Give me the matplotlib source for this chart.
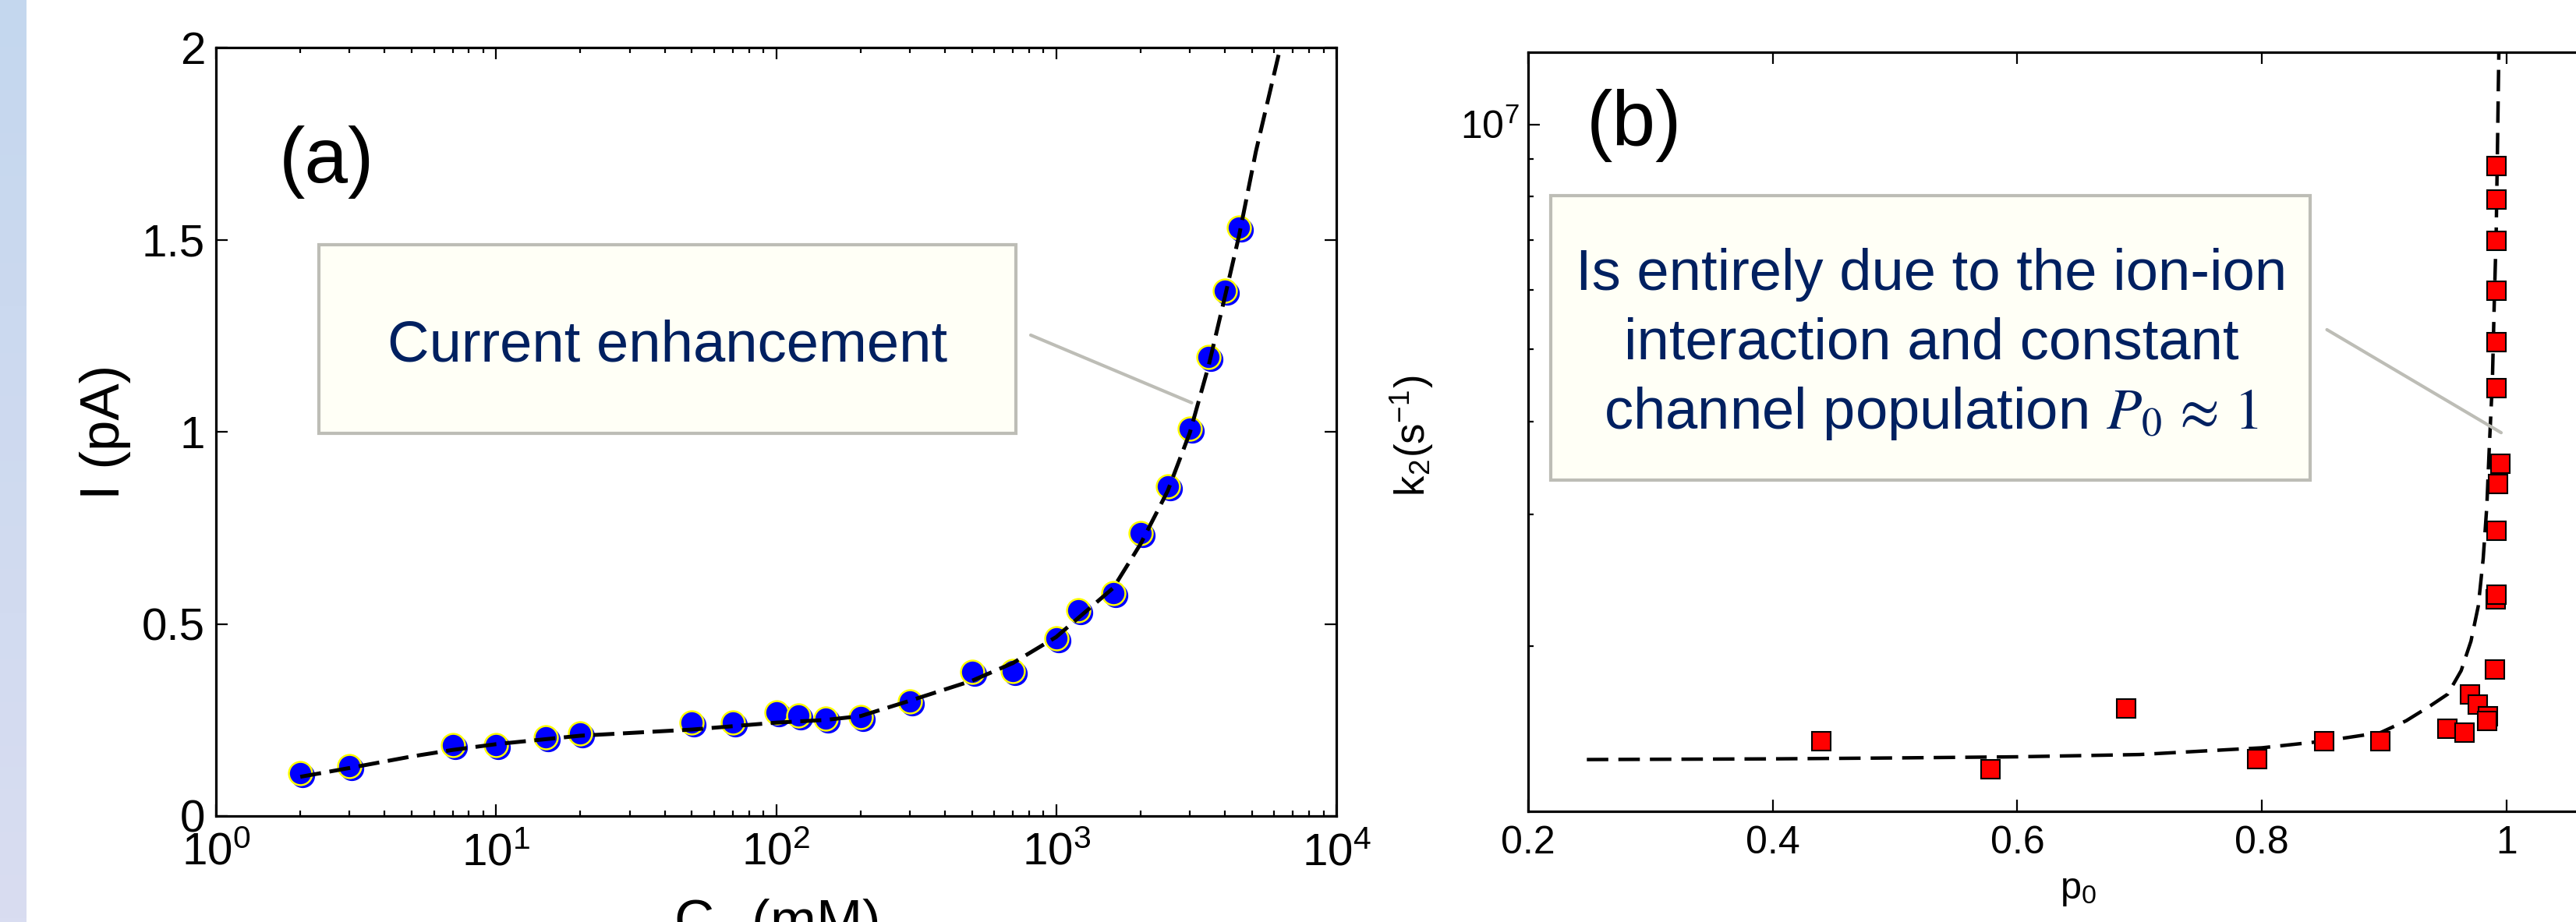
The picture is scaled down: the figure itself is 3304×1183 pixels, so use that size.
import numpy as np
import matplotlib
matplotlib.use('Agg')
import matplotlib.pyplot as plt
from matplotlib import transforms
from matplotlib.patches import Rectangle
from matplotlib.ticker import LogLocator, NullFormatter

plt.rcParams['font.family'] = ['Liberation Sans', 'DejaVu Sans']
plt.rcParams['mathtext.fontset'] = 'stix'

# ---------------- data: panel (a) ----------------
conc_mM = [2, 3, 7, 10, 15, 20, 50, 70, 100, 120, 150, 200, 300, 500, 700,
           1000, 1200, 1600, 2000, 2500, 3000, 3500, 4000, 4500]
current_pA = [0.111, 0.130, 0.184, 0.184, 0.205, 0.215, 0.243, 0.243, 0.270,
              0.262, 0.253, 0.257, 0.298, 0.375, 0.378, 0.462, 0.535, 0.581,
              0.737, 0.857, 1.008, 1.195, 1.368, 1.531]
fit_conc = [2, 3, 5, 7, 10, 20, 50, 100, 150, 200, 300, 500, 700, 1000, 1600,
            2000, 2500, 3000, 3500, 4000, 4500, 5160, 6310]
fit_current = [0.102, 0.125, 0.155, 0.172, 0.187, 0.209, 0.225, 0.243, 0.250,
               0.260, 0.300, 0.352, 0.398, 0.466, 0.594, 0.708, 0.846, 0.998,
               1.172, 1.351, 1.512, 1.729, 2.0]
yticks_a = [0, 0.5, 1, 1.5, 2]
yticklabels_a = ['0', '0.5', '1', '1.5', '2']

# ---------------- data: panel (b) ----------------
p0 = [0.440, 0.578, 0.689, 0.796, 0.851, 0.897, 0.952, 0.9655, 0.970, 0.9766,
      0.985, 0.984, 0.9906, 0.991, 0.992, 0.992, 0.993, 0.995, 0.992, 0.992,
      0.992, 0.992, 0.992, 0.992]
k2 = [1.49e6, 1.365e6, 1.65e6, 1.41e6, 1.49e6, 1.49e6, 1.55e6, 1.53e6, 1.72e6,
      1.67e6, 1.61e6, 1.585e6, 1.86e6, 2.31e6, 2.34e6, 2.85e6, 3.30e6, 3.51e6,
      4.43e6, 5.11e6, 5.98e6, 6.98e6, 7.93e6, 8.79e6]
fit_p0 = [0.248, 0.40, 0.50, 0.60, 0.70, 0.80, 0.85, 0.897, 0.918, 0.9375,
          0.952, 0.963, 0.971, 0.977, 0.981, 0.984, 0.986, 0.9885, 0.990,
          0.9916, 0.9927, 0.9938]
fit_k2 = [1.408e6, 1.411e6, 1.415e6, 1.42e6, 1.43e6, 1.46e6, 1.49e6, 1.53e6,
          1.587e6, 1.661e6, 1.723e6, 1.853e6, 2.029e6, 2.262e6, 2.617e6,
          3.082e6, 3.694e6, 4.512e6, 5.715e6, 7.106e6, 9.33e6, 1.25e7]
xticks_b = [0.2, 0.4, 0.6, 0.8, 1.0]
xticklabels_b = ['0.2', '0.4', '0.6', '0.8', '1']

text_a = 'Current enhancement'
text_b = ['Is entirely due to the ion-ion',
          'interaction and constant',
          r'channel population $P_0\,\approx\,1$']

# ---------------- figure ----------------
W, H, DPI = 3304, 1183, 100
fig = plt.figure(figsize=(W / DPI, H / DPI), dpi=DPI)
fig.patch.set_facecolor('white')

NAVY = '#002060'
BOXFC = '#fffff6'
BOXEC = '#bdbdb6'

# light blue strip on the left edge
strip = fig.add_axes([0, 0, 34 / W, 1], zorder=-5)
grad = np.linspace(0, 1, 256)[:, None, None]
c_top = np.array([196, 215, 238])[None, None, :] / 255
c_bot = np.array([217, 221, 241])[None, None, :] / 255
strip.imshow(c_top * (1 - grad) + c_bot * grad, aspect='auto',
             extent=[0, 1, 0, 1], origin='upper')
strip.axis('off')

# ---------------- panel (a) ----------------
axL = fig.add_axes([277 / W, 1 - 1047 / H, 1437 / W, 986 / H])
axL.set_xscale('log')
axL.set_xlim(1, 1e4)
axL.set_ylim(0, 2)

shadow = transforms.offset_copy(axL.transData, fig=fig, x=3, y=-3, units='dots')
axL.plot(conc_mM, current_pA, 'o', ms=21.5, mfc='#0000ff', mec='#0000ff',
         mew=1.0, transform=shadow, zorder=2, clip_on=False)
axL.plot(conc_mM, current_pA, 'o', ms=21.5, mfc='#0000ff', mec='#ffff00',
         mew=1.8, zorder=2.1, clip_on=False)
axL.plot(fit_conc, fit_current, color='black', lw=3.6,
         linestyle=(0, (5.4, 2.2)), zorder=3)

axL.xaxis.set_major_locator(LogLocator(base=10, numticks=10))
axL.xaxis.set_minor_locator(LogLocator(base=10, subs=np.arange(2, 10), numticks=10))
axL.xaxis.set_minor_formatter(NullFormatter())
axL.set_yticks(yticks_a, yticklabels_a)
axL.tick_params(which='both', direction='in', top=True, right=True, width=1.6)
axL.tick_params(which='major', length=11, labelsize=42)
axL.tick_params(axis='x', which='major', pad=15)
axL.tick_params(axis='y', which='major', pad=10)
axL.tick_params(which='minor', length=5)
for s in axL.spines.values():
    s.set_linewidth(2.3)

axL.set_ylabel('I (pA)', fontsize=51)
axL.yaxis.label.set_va('baseline')
axL.yaxis.set_label_coords(-0.0863, 0.5)
axL.set_xlabel(r'C$_{\mathdefault{s}}$ (mM)', fontsize=51)
axL.xaxis.label.set_va('baseline')
axL.xaxis.set_label_coords(0.5, -0.1592)

axL.text(0.0564, 0.8245, '(a)', transform=axL.transAxes, fontsize=72,
         ha='left', va='baseline')
axL.add_patch(Rectangle((0.0917, 0.498), 0.7137 - 0.0917, 0.7431 - 0.498,
                        transform=axL.transAxes, fc=BOXFC, ec=BOXEC, lw=3,
                        zorder=4))
axL.text(0.4029, 0.5913, text_a, transform=axL.transAxes, fontsize=53.5,
         color=NAVY, ha='center', va='baseline', zorder=5)
axL.annotate('', xy=(3045, 1.0755), xycoords='data',
             xytext=(0.7272, 0.6258), textcoords='axes fraction',
             arrowprops=dict(arrowstyle='-', color=BOXEC, lw=3,
                             shrinkA=0, shrinkB=0), zorder=4)

# ---------------- panel (b) ----------------
axR = fig.add_axes([1960 / W, 1 - 1041 / H, 1411.6 / W, 974 / H])
axR.set_yscale('log')
axR.set_xlim(0.2, 1.1)
axR.set_ylim(1.2e6, 1.25e7)

axR.plot(fit_p0, fit_k2, color='black', lw=3.2, linestyle=(0, (6.2, 2.9)),
         zorder=2)
axR.plot(p0, k2, 's', ms=17.5, mfc='#ff0000', mec='black', mew=1.5, zorder=3)

axR.set_xticks(xticks_b, xticklabels_b)
axR.yaxis.set_minor_formatter(NullFormatter())
axR.tick_params(which='both', direction='in', top=True, right=True, width=1.6)
axR.tick_params(axis='x', which='major', length=11, labelsize=36, pad=13)
axR.tick_params(axis='y', which='major', length=11, labelsize=36, pad=8)
axR.tick_params(which='minor', length=5)
for s in axR.spines.values():
    s.set_linewidth(2.3)

axR.set_ylabel(r'k$_{\mathdefault{2}}$(s$^{\mathdefault{-1}}$)', fontsize=38)
axR.yaxis.label.set_va('baseline')
axR.yaxis.set_label_coords(-0.0935, 0.495)
axR.set_xlabel(r'p$_{\mathdefault{0}}$', fontsize=35)
axR.xaxis.label.set_va('baseline')
axR.xaxis.set_label_coords(0.5, -0.115)

axR.text(0.0531, 0.8763, '(b)', transform=axR.transAxes, fontsize=72,
         ha='left', va='baseline')
axR.add_patch(Rectangle((0.0205, 0.4367), 0.7105 - 0.0205, 0.8114 - 0.4367,
                        transform=axR.transAxes, fc=BOXFC, ec=BOXEC, lw=3,
                        zorder=4))
for line, yb in zip(text_b, [0.6872, 0.5965, 0.5041]):
    axR.text(0.3662, yb, line, transform=axR.transAxes, fontsize=53.5,
             color=NAVY, ha='center', va='baseline', zorder=5)
axR.annotate('', xy=(0.9957, 3.862e6), xycoords='data',
             xytext=(0.7258, 0.6345), textcoords='axes fraction',
             arrowprops=dict(arrowstyle='-', color=BOXEC, lw=3,
                             shrinkA=0, shrinkB=0), zorder=4)

fig.savefig('out.png', dpi=DPI)
